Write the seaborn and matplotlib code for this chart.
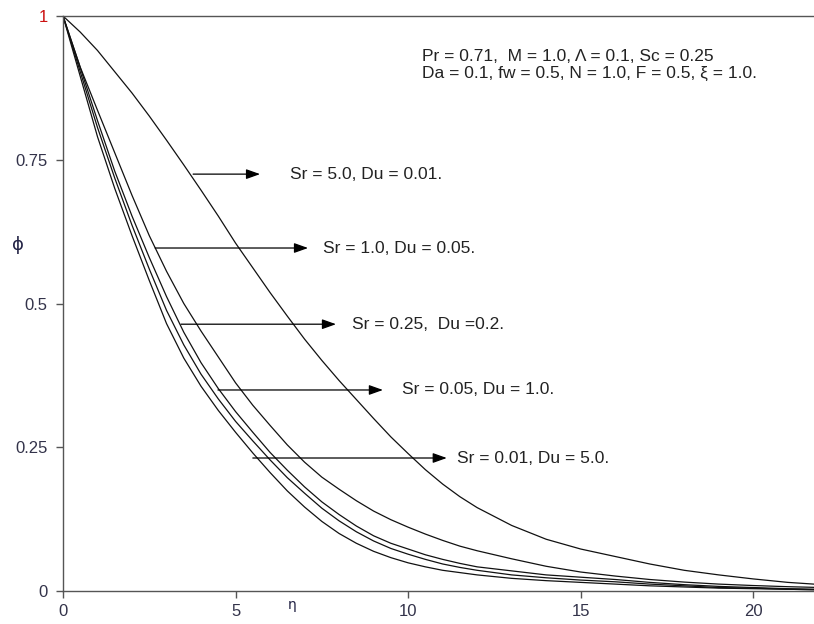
import numpy as np
import pandas as pd
import matplotlib
matplotlib.use("Agg")
import matplotlib.pyplot as plt
import seaborn as sns

# ---- data ----
eta = [0, 0.5, 1, 1.5, 2, 2.5, 3, 3.5, 4, 4.5, 5, 5.5, 6, 6.5, 7, 7.5, 8, 8.5, 9, 9.5,
       10, 10.5, 11, 11.5, 12, 13, 14, 15, 16, 17, 18, 19, 20, 21, 22]

phi_sr5 = [1.0, 0.972, 0.940, 0.903, 0.866, 0.826, 0.784, 0.741, 0.697, 0.652, 0.605,
           0.562, 0.519, 0.478, 0.438, 0.401, 0.366, 0.333, 0.300, 0.268, 0.239, 0.211,
           0.186, 0.164, 0.145, 0.114, 0.090, 0.073, 0.060, 0.047, 0.036, 0.028, 0.021,
           0.015, 0.011]
phi_sr1 = [1.0, 0.911, 0.836, 0.762, 0.688, 0.618, 0.556, 0.500, 0.452, 0.407, 0.362,
           0.323, 0.288, 0.254, 0.224, 0.198, 0.177, 0.157, 0.139, 0.124, 0.111, 0.099,
           0.088, 0.078, 0.070, 0.056, 0.043, 0.033, 0.026, 0.020, 0.0155, 0.012, 0.0095,
           0.0075, 0.006]
phi_sr025 = [1.0, 0.910, 0.818, 0.730, 0.652, 0.580, 0.512, 0.450, 0.397, 0.352, 0.312,
             0.276, 0.241, 0.210, 0.181, 0.155, 0.133, 0.113, 0.096, 0.083, 0.073, 0.063,
             0.055, 0.048, 0.042, 0.035, 0.028, 0.024, 0.020, 0.015, 0.011, 0.008, 0.006,
             0.004, 0.003]
phi_sr005 = [1.0, 0.903, 0.806, 0.718, 0.636, 0.560, 0.488, 0.428, 0.377, 0.334, 0.295,
             0.261, 0.228, 0.197, 0.170, 0.144, 0.122, 0.103, 0.087, 0.074, 0.064, 0.055,
             0.047, 0.041, 0.036, 0.028, 0.023, 0.019, 0.016, 0.012, 0.009, 0.006, 0.005,
             0.003, 0.002]
phi_sr001 = [1.0, 0.895, 0.790, 0.700, 0.618, 0.540, 0.465, 0.405, 0.356, 0.314, 0.276,
             0.240, 0.206, 0.174, 0.146, 0.121, 0.100, 0.083, 0.069, 0.058, 0.049, 0.042,
             0.036, 0.032, 0.028, 0.022, 0.018, 0.015, 0.012, 0.009, 0.007, 0.005, 0.004,
             0.003, 0.002]

series_names = ["Sr = 5.0, Du = 0.01.", "Sr = 1.0, Du = 0.05.", "Sr = 0.25,  Du =0.2.",
                "Sr = 0.05, Du = 1.0.", "Sr = 0.01, Du = 5.0."]
series_values = [phi_sr5, phi_sr1, phi_sr025, phi_sr005, phi_sr001]

# arrow annotations: (start eta, end eta, phi level, text eta)
arrow_start = [3.77, 2.67, 3.42, 4.49, 5.50]
arrow_end = [5.71, 7.10, 7.91, 9.27, 11.12]
arrow_phi = [0.725, 0.5965, 0.464, 0.3496, 0.2313]
label_eta = [6.58, 7.53, 8.37, 9.82, 11.41]

param_lines = ["Pr = 0.71,  M = 1.0, \u039b = 0.1, Sc = 0.25",
               "Da = 0.1, fw = 0.5, N = 1.0, F = 0.5, \u03be = 1.0."]

yticks = [0, 0.25, 0.5, 0.75, 1]
ytick_labels = ["0", "0.25", "0.5", "0.75", "1"]
xticks = [0, 5, 10, 15, 20]
xtick_labels = ["0", "5", "10", "15", "20"]

rows = []
for name, vals in zip(series_names, series_values):
    for e, p in zip(eta, vals):
        rows.append({"eta": e, "phi": p, "series": name})
df = pd.DataFrame(rows)

sns.set_theme(style="white")
plt.rcParams["font.family"] = ["Liberation Sans", "DejaVu Sans"]

fig = plt.figure(figsize=(8.14, 6.24), dpi=100)
ax = fig.add_axes([63 / 814, 1 - 591 / 624, 1 - 63 / 814, (591 - 16) / 624])

sns.lineplot(data=df, x="eta", y="phi", hue="series", hue_order=series_names,
             palette=["#111111"] * 5, legend=False, linewidth=0.9, ax=ax)

ax.set_xlim(0, 21.76)
ax.set_ylim(0, 1)
ax.set_xticks(xticks)
ax.set_xticklabels(xtick_labels)
ax.set_yticks(yticks)
ax.set_yticklabels(ytick_labels)
ax.set_xlabel("")
ax.set_ylabel("")

for side in ["left", "bottom", "top"]:
    ax.spines[side].set_color("#555555")
    ax.spines[side].set_linewidth(1.0)
ax.spines["right"].set_visible(False)

ax.tick_params(axis="both", direction="out", length=5, width=1.0, color="#555555",
               labelsize=12, labelcolor="#33334a", bottom=True, left=True)
ax.tick_params(axis="x", pad=4)
ax.tick_params(axis="y", pad=6)
for lab in ax.get_yticklabels():
    if lab.get_text() == "1":
        lab.set_color("#cc1111")

TXT = 12.5
for x0, x1, yv, tx, name in zip(arrow_start, arrow_end, arrow_phi, label_eta, series_names):
    ax.annotate("", xy=(x1, yv), xytext=(x0, yv),
                arrowprops=dict(arrowstyle="-|>,head_length=0.7,head_width=0.25",
                                color="black", lw=0.9, shrinkA=0, shrinkB=0))
    ax.text(tx, yv, name, fontsize=TXT, color="#222222", va="center", ha="left")

ax.text(10.4, 0.929, param_lines[0], fontsize=TXT, color="#222222", va="center", ha="left")
ax.text(10.4, 0.900, param_lines[1], fontsize=TXT, color="#222222", va="center", ha="left")

fig.text(12 / 814, 1 - 245 / 624, "\u03d5", fontsize=13, color="#222244",
         ha="left", va="center", family=["DejaVu Sans"])
fig.text(292 / 814, 1 - 605 / 624, "\u03b7", fontsize=10, color="#222244",
         ha="center", va="center", family=["DejaVu Sans"])

fig.savefig("out.png", dpi=100)
